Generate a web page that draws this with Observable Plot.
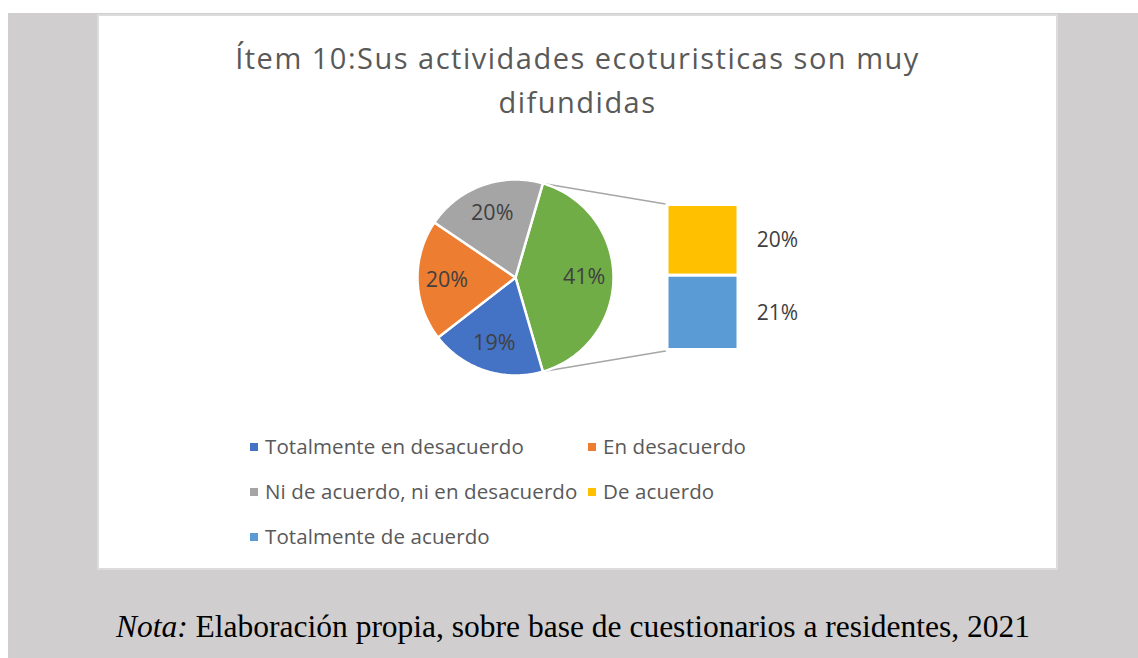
<!DOCTYPE html>
<html>
<head>
<meta charset="utf-8">
<script src="https://cdn.jsdelivr.net/npm/d3@7"></script>
<script src="https://cdn.jsdelivr.net/npm/@observablehq/plot@0.6"></script>
<style>
  html, body { margin: 0; padding: 0; background: #ffffff; width: 1138px; height: 658px; overflow: hidden; }
  #bg { position: absolute; left: 8px; top: 13px; width: 1130px; height: 645px; background: #d0cecf; }
  #panel { position: absolute; left: 97px; top: 14px; width: 957px; height: 552px; background: #ffffff; border: 2px solid #dcdcdc; }
  #title { position: absolute; left: 97px; top: 14px; width: 961px; text-align: center; font-family: "Open Sans", sans-serif; font-size: 29px; letter-spacing: 1.5px; color: #595959; line-height: 43px; }
  #title .l1 { position: absolute; left: 0; width: 100%; top: 22px; }
  #title .l2 { position: absolute; left: 0; width: 100%; top: 66px; }
  #chart { position: absolute; left: 97px; top: 150px; }
  .leg { position: absolute; font-family: "Open Sans", sans-serif; font-size: 20.5px; letter-spacing: 0.1px; color: #595959; white-space: nowrap; line-height: 1; }
  .leg .sw { display: inline-block; width: 8px; height: 8px; margin-right: 7px; vertical-align: 3px; }
  #caption { position: absolute; left: 0; width: 1146px; top: 609px; text-align: center; font-family: "Liberation Serif", "Times New Roman", serif; font-size: 31.5px; color: #000; white-space: nowrap; }
</style>
</head>
<body>
<div id="bg"></div>
<div id="panel"></div>
<div id="title"><div class="l1">Ítem 10:Sus actividades ecoturisticas son muy</div><div class="l2">difundidas</div></div>
<div id="chart"></div>
<div id="legend"></div>
<div id="caption"><i>Nota:</i> Elaboración propia, sobre base de cuestionarios a residentes, 2021</div>
<script>
// ---- data ----
const categories = ["Totalmente en desacuerdo", "En desacuerdo", "Ni de acuerdo, ni en desacuerdo", "De acuerdo", "Totalmente de acuerdo"];
const values = [19, 20, 20, 20, 21];
const colors = ["#4472c4", "#ed7d31", "#a5a5a5", "#ffc000", "#5b9bd5"];
const otherColor = "#70ad47";
const secondCount = 2; // last categories shown in the bar

// ---- layout ----
const W = 961, H = 260;
const cx = 418, cy = 127, R = 98;
const barX1 = 570, barX2 = 641, barH = 145;
const total = d3.sum(values);
const mainIdx = d3.range(categories.length - secondCount);
const secIdx = d3.range(categories.length - secondCount, categories.length);
const otherVal = d3.sum(secIdx, i => values[i]);

// pie items: "other" first, then main categories clockwise
const pieItems = [{key: "Otros", value: otherVal, color: otherColor},
  ...mainIdx.map(i => ({key: categories[i], value: values[i], color: colors[i]}))];
const otherAngle = otherVal / total * 2 * Math.PI;
const start = Math.PI / 2 - otherAngle / 2;
const arcs = d3.pie().sort(null).value(d => d.value).startAngle(start).endAngle(start + 2 * Math.PI)(pieItems);

const pt = (a, r) => [cx + r * Math.sin(a), cy - r * Math.cos(a)];
const polys = [];
for (const a of arcs) {
  const n = Math.max(2, Math.ceil((a.endAngle - a.startAngle) / (Math.PI / 180)));
  polys.push({key: a.data.key, color: a.data.color, x: cx, y: cy});
  for (let k = 0; k <= n; k++) {
    const ang = a.startAngle + (a.endAngle - a.startAngle) * k / n;
    const [x, y] = pt(ang, R);
    polys.push({key: a.data.key, color: a.data.color, x, y});
  }
}
const pieLabels = arcs.map(a => {
  const m = (a.startAngle + a.endAngle) / 2;
  const [x, y] = pt(m, R * 0.7);
  return {x, y, text: Math.round(a.data.value / total * 100) + "%"};
});

// bar segments
const k = barH / otherVal;
let cum = 0;
const barTop = cy - barH / 2;
const bars = secIdx.map(i => {
  const y1 = barTop + cum * k; cum += values[i];
  const y2 = barTop + cum * k;
  return {key: categories[i], color: colors[i], y1, y2, ym: (y1 + y2) / 2, text: Math.round(values[i] / total * 100) + "%"};
});

// connector lines
const otherArc = arcs[0];
const [sx1, sy1] = pt(otherArc.startAngle, R);
const [sx2, sy2] = pt(otherArc.endAngle, R);
const connectors = [
  {id: 0, x: sx1, y: sy1}, {id: 0, x: barX1 - 2, y: bars[0].y1 - 1},
  {id: 1, x: sx2, y: sy2}, {id: 1, x: barX1 - 2, y: bars[bars.length - 1].y2 + 1}
];

const chart = Plot.plot({
  width: W, height: H,
  margin: 0,
  x: {domain: [0, W], range: [0, W], axis: null},
  y: {domain: [0, H], range: [0, H], axis: null},
  color: {type: "identity"},
  marks: [
    Plot.line(connectors, {x: "x", y: "y", z: "id", stroke: "#a6a6a6", strokeWidth: 1.5}),
    Plot.line(polys, {x: "x", y: "y", z: "key", fill: "color", stroke: "#ffffff", strokeWidth: 2.5, strokeLinejoin: "round", curve: "linear-closed"}),
    Plot.rect(bars, {x1: () => barX1, x2: () => barX2, y1: "y1", y2: "y2", fill: "color", stroke: "#ffffff", strokeWidth: 3}),
    Plot.text(pieLabels, {x: "x", y: "y", text: "text", fill: "#404040", fontSize: 21.5, fontFamily: "Open Sans"}),
    Plot.text(bars, {x: () => barX2 + 39, y: "ym", text: "text", fill: "#404040", fontSize: 21, fontFamily: "Open Sans"})
  ]
});
document.getElementById("chart").appendChild(chart);

// legend
const legPos = [[250, 443], [588, 443], [250, 488], [588, 488], [250, 533]];
const leg = document.getElementById("legend");
categories.forEach((c, i) => {
  const d = document.createElement("div");
  d.className = "leg";
  d.style.left = legPos[i][0] + "px";
  d.style.top = (legPos[i][1] - 7) + "px";
  d.innerHTML = `<span class="sw" style="background:${colors[i]}"></span>${c}`;
  leg.appendChild(d);
});
</script>
</body>
</html>
